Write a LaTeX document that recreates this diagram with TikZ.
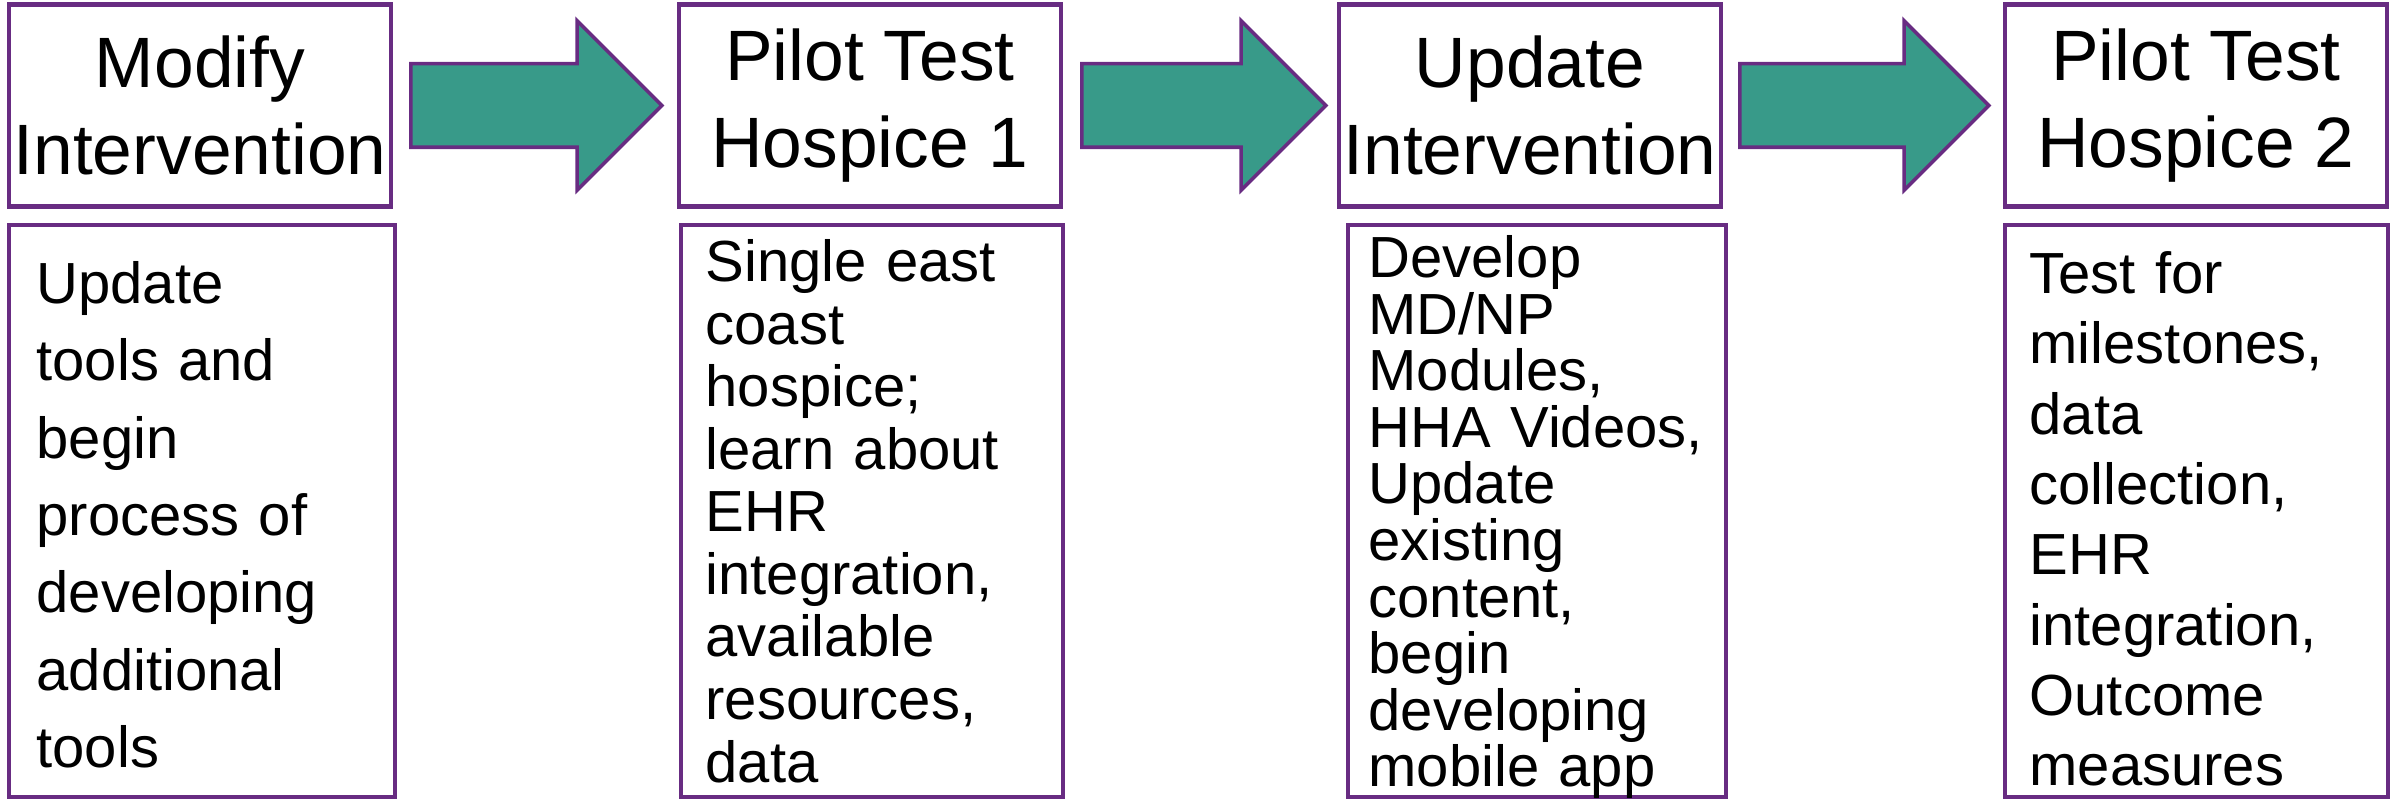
\documentclass[tikz,border=0pt]{standalone}
\usepackage{fontspec}
\setmainfont{Liberation Sans}
\usetikzlibrary{shapes.arrows}
\definecolor{framepurple}{RGB}{104,44,130}
\definecolor{arrowteal}{RGB}{56,154,137}

\tikzset{
  Head_Box/.style={rectangle, draw=framepurple, line width=1.2pt, fill=white,
                   minimum width=3.82cm, minimum height=2.02cm, inner sep=0pt,
                   align=center, font=\fontsize{20.3}{24.7}\selectfont},
  Body_Box/.style={rectangle, draw=framepurple, line width=1.2pt, fill=white,
                   minimum height=5.72cm, inner sep=0pt},
  Body_Text/.style={anchor=north west, inner sep=0pt, text width=3.7cm, align=left},
  Step_Arrow/.style={single arrow, draw=framepurple, line width=1pt, fill=arrowteal,
                     minimum width=1.66cm, single arrow head extend=0.43cm,
                     inner ysep=0.4cm, inner xsep=0pt, anchor=tail},
}

\begin{document}
\begin{tikzpicture}
    \useasboundingbox (0,0) rectangle (23.94,8);

    % Four step titles along the top
    \node[Head_Box] (Head_Modify)  at (2.00,6.945)  {Modify\\Intervention};
    \node[Head_Box] (Head_Pilot_1) at (8.70,6.945)  {Pilot Test\\Hospice 1};
    \node[Head_Box] (Head_Update)  at (15.30,6.945) {Update\\Intervention};
    \node[Head_Box] (Head_Pilot_2) at (21.96,6.945) {Pilot Test\\Hospice 2};

    % Block arrows between the titles
    \node[Step_Arrow, minimum height=2.51cm] (Arrow_1) at ([xshift=0.16cm]Head_Modify.east) {};
    \node[Step_Arrow, minimum height=2.44cm] (Arrow_2) at ([xshift=0.17cm]Head_Pilot_1.east) {};
    \node[Step_Arrow, minimum height=2.49cm] (Arrow_3) at ([xshift=0.15cm]Head_Update.east) {};

    % Detail boxes below each title
    \node[Body_Box, minimum width=3.86cm] (Body_Modify)  at (2.02,2.89)   {};
    \node[Body_Box, minimum width=3.82cm] (Body_Pilot_1) at (8.72,2.89)   {};
    \node[Body_Box, minimum width=3.78cm] (Body_Update)  at (15.37,2.89)  {};
    \node[Body_Box, minimum width=3.83cm] (Body_Pilot_2) at (21.965,2.89) {};

    \node[Body_Text, font=\fontsize{16.5}{22}\selectfont] (Text_Modify)
        at ([xshift=0.29cm,yshift=-0.38cm]Body_Modify.north west)
        {Update\\tools and\\begin\\process of\\developing\\additional\\tools};
    \node[Body_Text, font=\fontsize{16.5}{17.8}\selectfont] (Text_Pilot_1)
        at ([xshift=0.26cm,yshift=-0.16cm]Body_Pilot_1.north west)
        {Single east\\coast\\hospice;\\learn about\\EHR\\integration,\\available\\resources,\\data};
    \node[Body_Text, font=\fontsize{16.5}{16.1}\selectfont] (Text_Update)
        at ([xshift=0.22cm,yshift=-0.12cm]Body_Update.north west)
        {Develop\\MD/NP\\Modules,\\HHA Videos,\\Update\\existing\\content,\\begin\\developing\\mobile app};
    \node[Body_Text, font=\fontsize{16.5}{20}\selectfont] (Text_Pilot_2)
        at ([xshift=0.26cm,yshift=-0.28cm]Body_Pilot_2.north west)
        {Test for\\milestones,\\data\\collection,\\EHR\\integration,\\Outcome\\measures};
\end{tikzpicture}
\end{document}
